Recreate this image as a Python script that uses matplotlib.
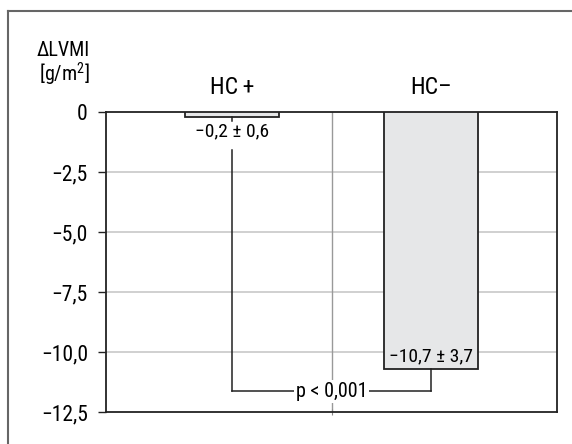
import numpy as np
import matplotlib.pyplot as plt
from matplotlib.lines import Line2D

plt.rcParams['font.family'] = ['Roboto Condensed', 'Roboto', 'DejaVu Sans']

# Данные
groups = ["HC\u2009+", "HC\u2013"]
values = [-0.2, -10.7]
value_labels = ["\u22120,2 \u00b1 0,6", "\u221210,7 \u00b1 3,7"]
yticks = [0, -2.5, -5.0, -7.5, -10.0, -12.5]
ytick_labels = ["0", "\u22122,5", "\u22125,0", "\u22127,5", "\u221210,0", "\u221212,5"]
p_text = "p < 0,001"

fig = plt.figure(figsize=(5.72, 4.44), dpi=100)
ax = fig.add_axes([106/572, 32/444, 451/572, 300/444])

x = np.arange(len(groups))
ax.bar(x, values, width=0.475, color="#e6e7e8", edgecolor="#222222", linewidth=1.3, zorder=3)

ax.set_xlim(-0.633, 1.633)
ax.set_ylim(-12.5, 0)
ax.set_yticks(yticks)
ax.set_yticklabels(ytick_labels, fontsize=15.5)
ax.tick_params(axis='y', length=6, width=1, pad=7, color="#222222")
ax.set_xticks([0.5])
ax.set_xticklabels([""])
ax.tick_params(axis='x', length=5, direction='inout', color="#888888")

for s in ax.spines.values():
    s.set_linewidth(1.3)
    s.set_color("#222222")

for yv in yticks[1:-1]:
    ax.axhline(yv, color="#c8c8c8", lw=1.2, zorder=1)
ax.axvline(0.5, color="#999999", lw=1, zorder=1)

# Подписи групп
for xi, g in zip(x, groups):
    ax.text(xi, 1.0, g, ha='center', va='center', fontsize=17, clip_on=False)

# Значения
ax.text(0, -0.82, value_labels[0], ha='center', va='center', fontsize=14, zorder=5)
ax.text(1, -10.17, value_labels[1], ha='center', va='center', fontsize=14, zorder=5)

# Скобка p
yb = -11.63
ax.plot([0, 0], [values[0], values[0] - 0.17], color="#222222", lw=1.1, zorder=4)
ax.plot([0, 0], [-1.6, yb], color="#222222", lw=1.1, zorder=4)
ax.plot([1, 1], [values[1], yb], color="#222222", lw=1.1, zorder=4)
ax.plot([0, 1], [yb, yb], color="#222222", lw=1.1, zorder=4)
ax.text(0.5, yb, p_text, ha='center', va='center', fontsize=14.5, zorder=5,
        bbox=dict(facecolor='white', edgecolor='none', pad=1.5))

# Заголовок оси
fig.text(90/572, 1 - 50/444, "\u0394LVMI", ha='right', va='center', fontsize=14.5)
fig.text(90/572, 1 - 74/444, "[g/m$^\\mathregular{2}$]", ha='right', va='center', fontsize=14.5)

# Внешняя рамка
fig.add_artist(Line2D([8/572, 8/572], [0, 1 - 11/444], color="#666666", lw=1.5, transform=fig.transFigure))
fig.add_artist(Line2D([8/572, 1], [1 - 11/444, 1 - 11/444], color="#666666", lw=1.5, transform=fig.transFigure))

fig.savefig("out.png", dpi=100)
